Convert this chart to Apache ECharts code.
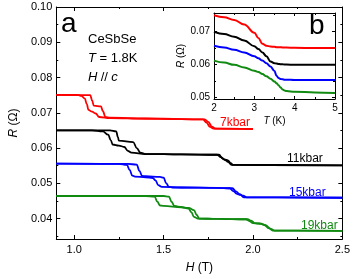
<!DOCTYPE html>
<html><head><meta charset="utf-8">
<script src="https://cdn.jsdelivr.net/npm/echarts@6/dist/echarts.min.js"></script>
<style>html,body{margin:0;padding:0;background:#fff}#c{width:353px;height:279px}</style>
</head><body><div id="c"></div>
<script>
// ---- Main panel (a): R vs H, two sweep branches per pressure ----
const H_7A  = [0.9,1.02,1.04,1.06,1.07,1.08,1.10,1.12,1.14,1.20,1.40,1.60,1.72,1.74,1.76,1.78,2.0];
const R_7A  = [.0751,.0751,.0748,.0740,.0725,.0708,.0703,.0698,.0688,.0685,.0683,.0682,.0681,.0672,.0660,.0655,.0654];
const H_7B  = [0.9,1.09,1.10,1.11,1.15,1.16,1.175,1.20,1.40,1.60,1.73,1.75,1.77,1.79,2.0];
const R_7B  = [.0751,.0750,.0735,.0720,.0718,.0705,.0688,.0686,.0684,.0682,.0681,.0674,.0661,.0655,.0654];

const H_11A = [0.9,1.10,1.16,1.19,1.205,1.215,1.25,1.28,1.30,1.32,1.40,1.60,1.80,1.82,1.84,1.86,1.875,1.89,2.5];
const R_11A = [.0650,.0650,.0647,.0638,.0622,.0610,.0607,.0603,.0592,.0587,.0583,.0582,.0581,.0574,.0568,.0565,.0557,.0552,.0551];
const H_11B = [0.9,1.20,1.235,1.245,1.25,1.33,1.35,1.37,1.40,1.60,1.81,1.83,1.845,1.86,1.88,2.5];
const R_11B = [.0650,.0650,.0647,.0630,.0621,.0617,.0600,.0587,.0583,.0582,.0581,.0570,.0566,.0561,.0552,.0551];

const H_15A = [0.9,1.25,1.295,1.31,1.325,1.34,1.40,1.44,1.455,1.47,1.49,1.60,1.80,1.87,1.89,1.91,1.93,1.95,2.5];
const R_15A = [.0556,.0555,.0552,.0538,.0522,.0519,.0517,.0515,.0508,.0495,.0490,.0488,.0487,.0486,.0478,.0470,.0467,.0460,.0459];
const H_15B = [0.9,1.30,1.35,1.365,1.38,1.40,1.48,1.50,1.515,1.53,1.55,1.80,1.885,1.905,1.925,1.945,1.965,2.5];
const R_15B = [.0556,.0555,.0553,.0535,.0521,.0520,.0518,.0516,.0500,.0490,.0488,.0487,.0486,.0477,.0469,.0465,.0460,.0459];

const H_19A = [0.9,1.40,1.45,1.465,1.48,1.50,1.60,1.64,1.655,1.67,1.69,1.80,1.96,1.98,2.00,2.03,2.06,2.09,2.11,2.5];
const R_19A = [.0464,.0464,.0462,.0448,.0437,.0436,.0432,.0428,.0418,.0405,.0400,.0399,.0398,.0393,.0387,.0386,.0383,.0372,.0366,.0365];
const H_19B = [0.9,1.50,1.53,1.545,1.56,1.58,1.64,1.67,1.685,1.70,1.80,1.97,1.99,2.01,2.04,2.07,2.10,2.12,2.5];
const R_19B = [.0464,.0464,.0462,.0447,.0436,.0434,.0430,.0424,.0410,.0400,.0399,.0398,.0394,.0387,.0386,.0381,.0371,.0366,.0365];

const PRESSURE_LABELS = ['7kbar','11kbar','15kbar','19kbar'];

// ---- Inset (b): R vs T ----
const T_IN   = [2.0,2.25,2.5,2.75,3.0,3.1,3.2,3.3,3.4,3.5,3.55,3.6,3.65,3.7,3.75,3.8,4.0,4.5,5.0];
const R_IN7  = [.0750,.0744,.0736,.0722,.0697,.0681,.0663,.0657,.0655,.0654,.0653,.0653,.0653,.0652,.0652,.0652,.0651,.0650,.0650];
const R_IN11 = [.0700,.0693,.0685,.0673,.0656,.0647,.0637,.0625,.0609,.0604,.0603,.0602,.0601,.0601,.0600,.0600,.0599,.0599,.0599];
const R_IN15 = [.0657,.0652,.0645,.0637,.0625,.0619,.0612,.0604,.0594,.0580,.0566,.0559,.0556,.0555,.0554,.0554,.0553,.0553,.0553];
const R_IN19 = [.0612,.0606,.0599,.0591,.0581,.0577,.0571,.0564,.0557,.0548,.0543,.0537,.0530,.0524,.0521,.0519,.0517,.0515,.0513];

// ---- Tick values ----
const H_TICKS = [1.0,1.5,2.0,2.5];
const H_MINOR = [1.25,1.75,2.25];
const R_TICKS = [0.04,0.05,0.06,0.07,0.08,0.09,0.10];
const R_MINOR = [0.035,0.045,0.055,0.065,0.075,0.085,0.095];
const T_TICKS = [2,3,4,5];
const T_MINOR = [2.5,3.5,4.5];
const RI_TICKS = [0.05,0.06,0.07];
const RI_MINOR = [0.055,0.065,0.075];

const RED='#ff0000', BLACK='#000000', BLUE='#0000ff', GREEN='#118a11';
const FONT = 'Liberation Sans, Arial, Helvetica, sans-serif';

function zip(a,b){return a.map((v,i)=>[v,b[i]]);}

function ax(o){
  const base = {
    type:'value', splitLine:{show:false},
    axisLine:{show:true,onZero:false,lineStyle:{color:'#000',width:1}},
    axisTick:{show:true,inside:true,length:4,lineStyle:{color:'#000',width:1}},
    axisLabel:{show:false}
  };
  return Object.assign(base,o);
}
function tickOnly(grid,pos,min,max,vals,len,line){
  return ax({gridIndex:grid,position:pos,min:min,max:max,
    axisLine:{show:!!line,onZero:false,lineStyle:{color:'#000',width:1}},
    axisTick:{show:true,inside:true,length:len,customValues:vals,lineStyle:{color:'#000',width:1}}});
}

const HMIN=0.9,HMAX=2.5,RMIN=0.0342,RMAX=0.10;
const TMIN=2,TMAX=5,RIMIN=0.0495,RIMAX=0.0757;

const xAxis = [
  ax({gridIndex:0,position:'bottom',min:HMIN,max:HMAX,
    axisTick:{show:true,inside:true,length:4,customValues:H_TICKS,lineStyle:{color:'#000'}},
    axisLabel:{show:true,customValues:H_TICKS,formatter:v=>v.toFixed(1),color:'#000',fontSize:11,fontFamily:FONT,margin:5},
    name:'{i|H} (T)',nameLocation:'middle',nameGap:23,
    nameTextStyle:{color:'#000',fontSize:12,fontFamily:FONT,rich:{i:{fontStyle:'italic',fontSize:12,fontFamily:FONT,color:'#000'}}}}),
  tickOnly(0,'top',HMIN,HMAX,H_TICKS,4,true),
  tickOnly(0,'bottom',HMIN,HMAX,H_MINOR,2,false),
  tickOnly(0,'top',HMIN,HMAX,H_MINOR,2,false),
  ax({gridIndex:1,position:'bottom',min:TMIN,max:TMAX,
    axisTick:{show:true,inside:true,length:3,customValues:T_TICKS,lineStyle:{color:'#000'}},
    axisLabel:{show:true,customValues:T_TICKS,formatter:v=>String(v),color:'#000',fontSize:10,fontFamily:FONT,margin:4},
    name:'{i|T} (K)',nameLocation:'middle',nameGap:17,
    nameTextStyle:{color:'#000',fontSize:10,fontFamily:FONT,rich:{i:{fontStyle:'italic',fontSize:10,fontFamily:FONT,color:'#000'}}}}),
  tickOnly(1,'top',TMIN,TMAX,T_TICKS,3,true),
  tickOnly(1,'bottom',TMIN,TMAX,T_MINOR,2,false),
  tickOnly(1,'top',TMIN,TMAX,T_MINOR,2,false)
];
const yAxis = [
  ax({gridIndex:0,position:'left',min:RMIN,max:RMAX,
    axisTick:{show:true,inside:true,length:4,customValues:R_TICKS,lineStyle:{color:'#000'}},
    axisLabel:{show:true,customValues:R_TICKS,formatter:v=>v.toFixed(2),color:'#000',fontSize:11,fontFamily:FONT,margin:4},
    name:'{i|R} (Ω)',nameLocation:'middle',nameGap:28,nameRotate:90,
    nameTextStyle:{color:'#000',fontSize:12,fontFamily:FONT,rich:{i:{fontStyle:'italic',fontSize:12,fontFamily:FONT,color:'#000'}}}}),
  tickOnly(0,'right',RMIN,RMAX,R_TICKS,4,true),
  tickOnly(0,'left',RMIN,RMAX,R_MINOR,2,false),
  tickOnly(0,'right',RMIN,RMAX,R_MINOR,2,false),
  ax({gridIndex:1,position:'left',min:RIMIN,max:RIMAX,
    axisTick:{show:true,inside:true,length:3,customValues:RI_TICKS,lineStyle:{color:'#000'}},
    axisLabel:{show:true,customValues:RI_TICKS,formatter:v=>v.toFixed(2),color:'#000',fontSize:10,fontFamily:FONT,margin:4},
    name:'{i|R} (Ω)',nameLocation:'middle',nameGap:27,nameRotate:90,
    nameTextStyle:{color:'#000',fontSize:10,fontFamily:FONT,rich:{i:{fontStyle:'italic',fontSize:10,fontFamily:FONT,color:'#000'}}}}),
  tickOnly(1,'right',RIMIN,RIMAX,RI_TICKS,3,true),
  tickOnly(1,'left',RIMIN,RIMAX,RI_MINOR,2,false),
  tickOnly(1,'right',RIMIN,RIMAX,RI_MINOR,2,false)
];

function line(data,color,xi,yi,w){
  return {type:'line',data:data,xAxisIndex:xi,yAxisIndex:yi,showSymbol:false,symbol:'none',
    smooth:0.4,smoothMonotone:'x',lineStyle:{color:color,width:w},itemStyle:{color:color},silent:true,animation:false,z:3};
}

const series = [
  line(zip(H_7A,R_7A),RED,0,0,1.8), line(zip(H_7B,R_7B),RED,0,0,1.8),
  line(zip(H_11A,R_11A),BLACK,0,0,1.8), line(zip(H_11B,R_11B),BLACK,0,0,1.8),
  line(zip(H_15A,R_15A),BLUE,0,0,1.8), line(zip(H_15B,R_15B),BLUE,0,0,1.8),
  line(zip(H_19A,R_19A),GREEN,0,0,1.8), line(zip(H_19B,R_19B),GREEN,0,0,1.8),
  line(zip(T_IN,R_IN7),RED,4,4,2), line(zip(T_IN,R_IN11),BLACK,4,4,2),
  line(zip(T_IN,R_IN15),BLUE,4,4,2), line(zip(T_IN,R_IN19),GREEN,4,4,2)
];

const txt = (x,y,t,size,color,extra)=>Object.assign({type:'text',left:x,top:y,z:10,
  style:{text:t,fontSize:size,fontFamily:FONT,fill:color}},extra||{});

const graphic = [
  txt(61,10,'a',28,'#000'),
  {type:'text',left:88,top:33,z:10,style:{text:'CeSbSe',fontSize:13,fontFamily:FONT,fill:'#000'}},
  {type:'text',left:88,top:52,z:10,style:{rich:{i:{fontStyle:'italic',fontSize:13,fontFamily:FONT,fill:'#000'},n:{fontSize:13,fontFamily:FONT,fill:'#000'}},text:'{i|T}{n| = 1.8K}'}},
  {type:'text',left:88,top:71,z:10,style:{rich:{i:{fontStyle:'italic',fontSize:13,fontFamily:FONT,fill:'#000'},n:{fontSize:13,fontFamily:FONT,fill:'#000'}},text:'{i|H} {n|//} {i|c}'}},
  txt(309,12,'b',28,'#000'),
  txt(220,117,PRESSURE_LABELS[0],12,RED),
  txt(287,153,PRESSURE_LABELS[1],12,BLACK),
  txt(289,187,PRESSURE_LABELS[2],12,BLUE),
  txt(301,220,PRESSURE_LABELS[3],12,GREEN)
];

const chart = echarts.init(document.getElementById('c'),null,{renderer:'canvas'});
chart.setOption({
  animation:false,
  backgroundColor:'#fff',
  grid:[
    {left:51,right:8,top:7,bottom:35,containLabel:false},
    {left:214,top:13,width:121,height:86,show:true,backgroundColor:'#fff',borderWidth:0}
  ],
  xAxis:xAxis, yAxis:yAxis, series:series, graphic:graphic
});
</script></body></html>
